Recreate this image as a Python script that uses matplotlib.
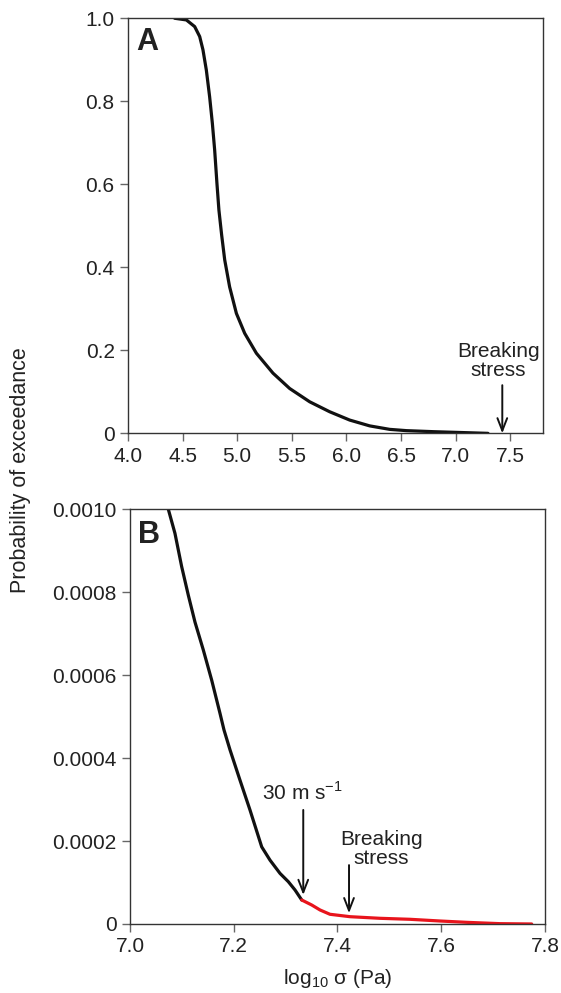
import matplotlib
matplotlib.use("Agg")
import matplotlib.pyplot as plt

plt.rcParams["font.family"] = ["Liberation Sans", "DejaVu Sans"]
plt.rcParams["mathtext.fontset"] = "custom"
plt.rcParams["mathtext.rm"] = "Liberation Sans"

# panel A: full exceedance curve
a_x = [4.428, 4.535, 4.611, 4.657, 4.687, 4.718, 4.748, 4.773, 4.794, 4.815, 4.833,
       4.858, 4.886, 4.931, 4.993, 5.069, 5.176, 5.328, 5.481, 5.664, 5.847, 6.030,
       6.213, 6.396, 6.55, 6.8, 7.1, 7.296]
a_y = [1.0, 0.996, 0.980, 0.956, 0.924, 0.875, 0.811, 0.747, 0.683, 0.602, 0.538,
       0.478, 0.418, 0.353, 0.289, 0.241, 0.193, 0.145, 0.108, 0.076, 0.052, 0.032,
       0.018, 0.0096, 0.0065, 0.004, 0.0016, 0.0]

# panel B: tail, black up to 30 m/s, red beyond
b_x_black = [7.0739, 7.0867, 7.0996, 7.1124, 7.1253, 7.1413, 7.1575, 7.1735, 7.1812,
             7.1928, 7.2120, 7.2313, 7.2539, 7.2699, 7.2892, 7.3052, 7.3181, 7.3310]
b_y_black = [0.001, 0.000942, 0.000862, 0.000793, 0.000728, 0.000661, 0.000588, 0.000508,
             0.000468, 0.000420, 0.000347, 0.000275, 0.000186, 0.000154, 0.000122,
             0.000102, 0.0000820, 0.0000579]
b_x_red = [7.3310, 7.3503, 7.3663, 7.3855, 7.4241, 7.4819, 7.5398, 7.5976, 7.6488,
           7.7131, 7.7743]
b_y_red = [0.0000579, 0.0000458, 0.0000338, 0.0000234, 0.0000176, 0.0000137, 0.0000113,
           0.0000072, 0.0000040, 0.0000008, 0.0]

a_xticks = [4.0, 4.5, 5.0, 5.5, 6.0, 6.5, 7.0, 7.5]
a_yticks = [0, 0.2, 0.4, 0.6, 0.8, 1.0]
a_yticklabels = ["0", "0.2", "0.4", "0.6", "0.8", "1.0"]
b_xticks = [7.0, 7.2, 7.4, 7.6, 7.8]
b_yticks = [0, 0.0002, 0.0004, 0.0006, 0.0008, 0.0010]
b_yticklabels = ["0", "0.0002", "0.0004", "0.0006", "0.0008", "0.0010"]

spine_col = "#333333"
txt_col = "#222222"
fs = 15

fig = plt.figure(figsize=(5.61, 9.93), dpi=100)
ax_a = fig.add_axes([0.228, 0.5636, 0.740, 0.418])
ax_b = fig.add_axes([0.2317, 0.0695, 0.7398, 0.4176])


def style(ax):
    for s in ax.spines.values():
        s.set_color(spine_col)
        s.set_linewidth(1.0)
    ax.tick_params(direction="out", length=5.5, width=1.0, color="#666666",
                   labelsize=fs, labelcolor=txt_col, pad=4)


arrow_kw = dict(arrowstyle="->,head_length=0.9,head_width=0.35", color="#111111", lw=1.4,
                shrinkA=0, shrinkB=0)

# A
ax_a.plot(a_x, a_y, color="#111111", lw=2.3, solid_capstyle="round")
ax_a.set_xlim(4.0, 7.8)
ax_a.set_ylim(0, 1.0)
ax_a.set_xticks(a_xticks)
ax_a.set_xticklabels([f"{v:.1f}" for v in a_xticks])
ax_a.set_yticks(a_yticks)
ax_a.set_yticklabels(a_yticklabels)
style(ax_a)
ax_a.text(0.021, 0.98, "A", transform=ax_a.transAxes, fontsize=22, fontweight="bold",
          va="top", ha="left", color=txt_col)
ax_a.annotate("", xy=(7.427, 0.0), xytext=(7.427, 0.116), arrowprops=arrow_kw)
ax_a.text(7.39, 0.174, "Breaking\nstress", ha="center", va="center", fontsize=fs,
          color=txt_col, linespacing=1.0)

# B
ax_b.plot(b_x_black, b_y_black, color="#111111", lw=2.3, solid_capstyle="round")
ax_b.plot(b_x_red, b_y_red, color="#e8141c", lw=2.3, solid_capstyle="round")
ax_b.set_xlim(7.0, 7.8)
ax_b.set_ylim(0, 0.001)
ax_b.set_xticks(b_xticks)
ax_b.set_xticklabels([f"{v:.1f}" for v in b_xticks])
ax_b.set_yticks(b_yticks)
ax_b.set_yticklabels(b_yticklabels)
style(ax_b)
ax_b.text(0.019, 0.975, "B", transform=ax_b.transAxes, fontsize=22, fontweight="bold",
          va="top", ha="left", color=txt_col)
ax_b.annotate("", xy=(7.334, 0.00007), xytext=(7.334, 0.000275), arrowprops=arrow_kw)
ax_b.text(7.333, 0.000318, "30 m s$^{\u22121}$", ha="center", va="center", fontsize=fs,
          color=txt_col)
ax_b.annotate("", xy=(7.4222, 0.000026), xytext=(7.4222, 0.000142), arrowprops=arrow_kw)
ax_b.text(7.485, 0.000182, "Breaking\nstress", ha="center", va="center", fontsize=fs,
          color=txt_col, linespacing=1.0)
ax_b.set_xlabel("log$_{10}$ \u03c3 (Pa)", fontsize=fs, color=txt_col, labelpad=8)

fig.text(0.036, 0.527, "Probability of exceedance", rotation=90, ha="center", va="center",
         fontsize=15.5, color=txt_col)

fig.savefig("out.png", dpi=100)
